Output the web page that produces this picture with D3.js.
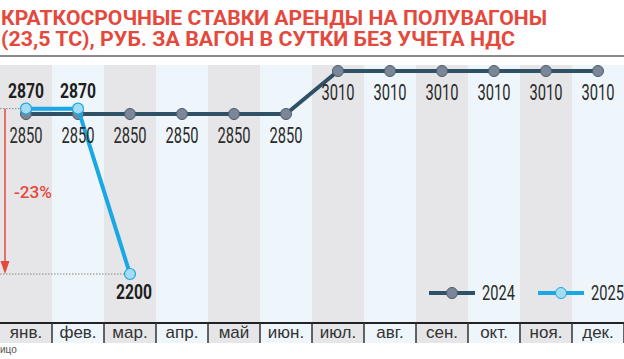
<!DOCTYPE html>
<html><head><meta charset="utf-8">
<script src="https://cdn.jsdelivr.net/npm/d3@7"></script>
<style>body{margin:0;background:#fff}svg{display:block}</style>
</head><body>
<svg id="c" width="624" height="359"></svg>
<script>
const months = ["янв.","фев.","мар.","апр.","май","июн.","июл.","авг.","сен.","окт.","ноя.","дек."];
const values2024 = [2850,2850,2850,2850,2850,2850,3010,3010,3010,3010,3010,3010];
const values2025 = [2870,2870,2200];
const seriesNames = ["2024","2025"];
const titleLines = ["КРАТКОСРОЧНЫЕ СТАВКИ АРЕНДЫ НА ПОЛУВАГОНЫ","(23,5 ТС), РУБ. ЗА ВАГОН В СУТКИ БЕЗ УЧЕТА НДС"];
const changeLabel = "-23%";
const sourceText = "ицо";

const svg = d3.select("#c");
const W = 624;
const plotTop = 65, plotBottom = 343, rowTop = 323;
const red = "#e5483c", c24 = "#2e5166", c25 = "#19a8e4";

const x = d3.scaleBand().domain(months).range([0, W]).padding(0);
const cx = m => x(m) + x.bandwidth()/2;
const y = d3.scaleLinear().domain([2200, 2850, 3010]).range([274, 114, 71]);

// title
svg.selectAll("text.title").data(titleLines).join("text")
  .attr("class","title").attr("x",1).attr("y",(d,i)=>25+i*21)
  .attr("textLength",(d,i)=>i===0?546:514).attr("lengthAdjust","spacingAndGlyphs")
  .style("font-family","Roboto, sans-serif").style("font-weight","700").style("font-size","19.5px")
  .attr("fill",red).text(d=>d);
svg.append("rect").attr("x",0).attr("y",55).attr("width",W).attr("height",2).attr("fill","#8a8a8a");

// stripes
svg.selectAll("rect.stripe").data(months).join("rect").attr("class","stripe")
  .attr("x",d=>x(d)).attr("y",plotTop).attr("width",x.bandwidth()).attr("height",plotBottom-plotTop)
  .attr("fill",(d,i)=>i%2===0?"#e6e6e8":"#eef6fb");

// month row
svg.append("rect").attr("x",0).attr("y",rowTop-1).attr("width",W).attr("height",2).attr("fill","#222");
svg.selectAll("line.div").data(months).join("line").attr("class","div")
  .attr("x1",d=>x(d)+x.bandwidth()).attr("x2",d=>x(d)+x.bandwidth())
  .attr("y1",rowTop).attr("y2",plotBottom).attr("stroke","#333").attr("stroke-width",1.5);
svg.selectAll("text.month").data(months).join("text").attr("class","month")
  .attr("x",d=>cx(d)).attr("y",338).attr("text-anchor","middle")
  .style("font-family","'Liberation Sans', Arial, sans-serif").style("font-size","17px")
  .attr("fill","#333").text(d=>d);
svg.append("text").attr("x",0).attr("y",353).style("font-family","'Liberation Sans', Arial, sans-serif")
  .style("font-size","10px").attr("fill","#555").text(sourceText);

// reference dotted lines and arrow
const dot = (x1,x2,yy)=>svg.append("line").attr("x1",x1).attr("x2",x2).attr("y1",yy).attr("y2",yy)
  .attr("stroke","#888").attr("stroke-width",1).attr("stroke-dasharray","1.5,1.5");
dot(0, cx(months[0]), y(values2025[0]));
dot(0, cx(months[2]), y(values2025[2]));
svg.append("line").attr("x1",5).attr("x2",5).attr("y1",y(values2025[0])).attr("y2",y(values2025[2])-10)
  .attr("stroke",red).attr("stroke-width",1.5);
svg.append("path").attr("d",`M0.5,${y(values2025[2])-13}L9.5,${y(values2025[2])-13}L5,${y(values2025[2])}Z`).attr("fill",red);
svg.append("text").attr("x",14).attr("y",198).attr("textLength",38).attr("lengthAdjust","spacingAndGlyphs")
  .style("font-family","Roboto, sans-serif").style("font-size","17px").style("font-weight","500")
  .attr("fill",red).text(changeLabel);

// lines
const line = d3.line().x((d,i)=>cx(months[i])).y(d=>y(d));
svg.append("path").attr("d",line(values2024)).attr("fill","none").attr("stroke",c24).attr("stroke-width",4).attr("stroke-linejoin","round");
svg.selectAll("circle.p24").data(values2024).join("circle").attr("class","p24")
  .attr("cx",(d,i)=>cx(months[i])).attr("cy",d=>y(d)).attr("r",5.5)
  .attr("fill","#7b8798").attr("stroke","#4a5a6a").attr("stroke-width",1);
svg.append("path").attr("d",line(values2025)).attr("fill","none").attr("stroke",c25).attr("stroke-width",4).attr("stroke-linejoin","round");
svg.selectAll("circle.p25").data(values2025).join("circle").attr("class","p25")
  .attr("cx",(d,i)=>cx(months[i])).attr("cy",d=>y(d)).attr("r",5.5)
  .attr("fill","#a6dcf2").attr("stroke",c25).attr("stroke-width",1.2);

// labels
svg.selectAll("text.l24").data(values2024).join("text").attr("class","l24")
  .attr("x",(d,i)=>cx(months[i])).attr("y",d=>y(d)+29).attr("text-anchor","middle")
  .attr("textLength",33).attr("lengthAdjust","spacingAndGlyphs")
  .style("font-family","Roboto, sans-serif").style("font-size","22px").attr("fill","#2a2a2a").text(d=>d);
svg.selectAll("text.l25").data(values2025).join("text").attr("class","l25")
  .attr("x",(d,i)=>cx(months[i])+(i===2?4:0)).attr("y",(d,i)=>i===2?y(d)+25:y(d)-11).attr("text-anchor","middle")
  .attr("textLength",36).attr("lengthAdjust","spacingAndGlyphs")
  .style("font-family","Roboto, sans-serif").style("font-size","20px").style("font-weight","700").attr("fill","#1e1e1e").text(d=>d);

// legend
const leg = [{x:429, c:c24, f:"#7b8798", s:"#4a5a6a"},{x:538, c:c25, f:"#a6dcf2", s:c25}];
leg.forEach((l,i)=>{
  svg.append("line").attr("x1",l.x).attr("x2",l.x+46).attr("y1",293).attr("y2",293).attr("stroke",l.c).attr("stroke-width",4);
  svg.append("circle").attr("cx",l.x+23).attr("cy",293).attr("r",5.5).attr("fill",l.f).attr("stroke",l.s).attr("stroke-width",1);
  svg.append("text").attr("x",l.x+53).attr("y",300).attr("textLength",33).attr("lengthAdjust","spacingAndGlyphs")
    .style("font-family","Roboto, sans-serif").style("font-size","20px").attr("fill","#2a2a2a").text(seriesNames[i]);
});
</script>
</body></html>
